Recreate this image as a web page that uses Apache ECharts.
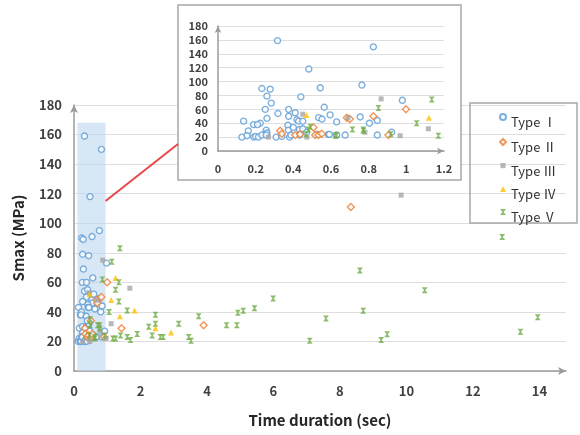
<!DOCTYPE html>
<html>
<head>
<meta charset="utf-8">
<script src="https://cdn.jsdelivr.net/npm/echarts@6/dist/echarts.min.js"></script>
<style>
  html, body { margin: 0; padding: 0; background: #fff; }
  #chart { width: 580px; height: 435px; }
</style>
</head>
<body>
<div id="chart"></div>
<script>
// Peak stress (Smax) against time duration for five event types
const seriesNames = ['Type Ⅰ', 'Type Ⅱ', 'Type Ⅲ', 'Type Ⅳ', 'Type Ⅴ'];

const typeI = [
  [0.316,159],[0.825,150],[0.482,118],[0.543,91],[0.764,95],[0.233,90],[0.277,89],
  [0.26,79],[0.44,78],[0.283,69],[0.979,73],[0.251,60],[0.375,60],[0.564,63],
  [0.318,54],[0.41,55],[0.375,50],[0.26,47],[0.534,48],[0.552,46],[0.595,52],
  [0.755,49],[0.136,43],[0.419,45],[0.428,43],[0.45,43],[0.63,42],[0.804,40],
  [0.846,44],[0.189,38],[0.224,40],[0.21,38],[0.371,37],[0.161,29],[0.256,30],
  [0.26,26],[0.374,30],[0.433,31],[0.45,32],[0.127,20],[0.154,22],[0.19,20],
  [0.2,21],[0.215,20],[0.233,23],[0.256,23],[0.309,20],[0.339,21],[0.38,20],
  [0.387,23],[0.433,23],[0.525,24],[0.586,24],[0.592,24],[0.63,23],[0.675,23],
  [0.846,23],[0.922,27],[0.47,27],[0.40,34]
];
const typeII = [
  [0.33,29],[0.339,25],[0.41,23],[0.436,24],[0.507,34],[0.516,23],[0.534,23],
  [0.551,25],[0.684,48],[0.70,46],[0.825,50],[0.905,23],[0.998,60],[1.43,29],
  [3.9,31],[8.33,111]
];
const typeIII = [
  [0.268,20],[0.45,53],[0.472,20],[0.69,48],[0.78,27],[0.866,75],[0.967,22],
  [1.117,32],[1.68,56],[9.84,119]
];
const typeIV = [
  [0.47,52],[1.25,63],[1.12,48],[1.82,41],[1.38,37],[2.45,29],[2.92,26]
];
const typeV = [
  [0.468,24],[0.48,31],[0.49,35],[0.622,22],[0.63,23],[0.714,31],[0.772,31],
  [0.772,29],[0.852,62],[0.917,24],[1.055,40],[1.135,74],[1.17,22],
  [1.38,83],[1.35,60],[1.25,55],[1.35,47],[1.6,41],[1.4,24],[1.25,22],[1.6,23],
  [1.7,21],[1.9,25],[2.25,30],[2.45,38],[2.45,32],[2.35,24],[2.6,23],[2.68,23],
  [3.15,32],[3.45,23],[3.52,20.5],[3.75,37],[4.59,31],[4.9,31],[4.93,39.4],
  [5.09,40.7],[5.43,42.4],[5.99,49],[7.09,20.5],[7.58,35.6],[8.6,68],[8.7,40.7],
  [9.24,21],[9.42,24.8],[10.55,54.7],[12.88,90.7],[13.43,26.6],[13.95,36.3]
];

// Main axis ticks and the highlighted short-duration window
const mainXTicks = [0, 2, 4, 6, 8, 10, 12, 14];
const mainYTicks = [0, 20, 40, 60, 80, 100, 120, 140, 160, 180];
const zoomWindow = { x0: 0.1, x1: 0.95, y0: 0, y1: 168 };

const allData = [typeI, typeII, typeIII, typeIV, typeV];
const colors = ['#5b9bd5', '#ed7d31', '#a5a5a5', '#ffc000', '#70ad47'];
const xMarker = 'path://M0,0H10L6,5L10,10H0L4,5Z';
const styles = [
  { symbol: 'circle', size: 6, item: { color: '#fff', borderColor: colors[0], borderWidth: 1.4 } },
  { symbol: 'diamond', size: 7, item: { color: '#fff', borderColor: colors[1], borderWidth: 1.4 } },
  { symbol: 'rect', size: 5, item: { color: colors[2] } },
  { symbol: 'triangle', size: 6, item: { color: colors[3] } },
  { symbol: xMarker, size: 6, item: { color: colors[4] } }
];
// Legend keys sit high beside their labels: each key shape fills the top of a taller box
const legendIcons = [
  'path://M3,16M0,3A3,3,0,1,1,6,3A3,3,0,1,1,0,3Z',
  'path://M3,16M3,0L6,3L3,6L0,3Z',
  'path://M3,16M0.5,0.5H5.5V5.5H0.5Z',
  'path://M3,16M3,0L6,6H0Z',
  'path://M3,16M0,0H6L3.6,3L6,6H0L2.4,3Z'
];

const FONT = '"Noto Sans CJK KR", "Noto Sans", sans-serif';
const labelColor = '#404040';
const gridColor = '#dedede';
const axisColor = '#9a9a9a';

const series = [];
allData.forEach((d, i) => {
  series.push({
    name: seriesNames[i], type: 'scatter', xAxisIndex: 0, yAxisIndex: 0,
    data: d, symbol: styles[i].symbol, symbolSize: styles[i].size,
    itemStyle: styles[i].item, z: 3, emphasis: { disabled: true }
  });
});
allData.forEach((d, i) => {
  series.push({
    name: seriesNames[i], type: 'scatter', xAxisIndex: 1, yAxisIndex: 1,
    data: d.filter(p => p[0] <= 1.2), symbol: styles[i].symbol, symbolSize: styles[i].size,
    itemStyle: styles[i].item, z: 8, emphasis: { disabled: true }, clip: true
  });
});

const chart = echarts.init(document.getElementById('chart'), null, { renderer: 'canvas' });

chart.setOption({
  animation: false,
  backgroundColor: '#ffffff',
  textStyle: { fontFamily: FONT },
  grid: [
    { left: 74, top: 105, width: 492, height: 266 },
    { left: 218, top: 26, width: 226, height: 125 }
  ],
  xAxis: [
    {
      type: 'value', gridIndex: 0, min: 0, max: 14.8, interval: 2,
      name: 'Time duration (sec)', nameLocation: 'middle', nameGap: 42,
      nameTextStyle: { fontSize: 15, fontWeight: 'bold', color: '#262626', fontFamily: FONT },
      axisLine: { show: true, lineStyle: { color: axisColor, width: 1.5 }, symbol: ['none', 'arrow'], symbolSize: [6, 8] },
      axisTick: { show: false },
      splitLine: { show: false },
      axisLabel: {
        margin: 14, fontSize: 13, fontWeight: 'bold', color: labelColor, fontFamily: FONT,
        formatter: v => (mainXTicks.includes(v) ? String(v) : '')
      }
    },
    {
      type: 'value', gridIndex: 1, min: 0, max: 1.2, interval: 0.2, z: 6,
      axisLine: { show: true, lineStyle: { color: axisColor, width: 1.5 }, symbol: ['none', 'arrow'], symbolSize: [5, 7] },
      axisTick: { show: false },
      splitLine: { show: false },
      axisLabel: {
        margin: 12, fontSize: 11, fontWeight: 'bold', color: labelColor, fontFamily: FONT,
        formatter: v => String(Math.round(v * 10) / 10)
      }
    }
  ],
  yAxis: [
    {
      type: 'value', gridIndex: 0, min: 0, max: 180, interval: 20,
      name: 'Smax (MPa)', nameLocation: 'middle', nameGap: 48,
      nameTextStyle: { fontSize: 15, fontWeight: 'bold', color: '#262626', fontFamily: FONT },
      axisLine: { show: true, lineStyle: { color: axisColor, width: 1.5 }, symbol: ['none', 'arrow'], symbolSize: [6, 8] },
      axisTick: { show: false },
      splitLine: { show: true, lineStyle: { color: gridColor, width: 1 } },
      axisLabel: {
        margin: 12, fontSize: 13, fontWeight: 'bold', color: labelColor, fontFamily: FONT,
        formatter: v => (mainYTicks.includes(v) ? String(v) : '')
      }
    },
    {
      type: 'value', gridIndex: 1, min: 0, max: 180, interval: 20, z: 6,
      axisLine: { show: true, lineStyle: { color: axisColor, width: 1.5 }, symbol: ['none', 'arrow'], symbolSize: [5, 7] },
      axisTick: { show: false },
      splitLine: { show: true, lineStyle: { color: gridColor, width: 1 } },
      axisLabel: { margin: 10, fontSize: 11, fontWeight: 'bold', color: labelColor, fontFamily: FONT }
    }
  ],
  legend: {
    data: seriesNames.map((n, i) => ({ name: n, icon: legendIcons[i] })),
    orient: 'vertical',
    left: 499, top: 113, padding: 0,
    itemWidth: 6, itemHeight: 16, itemGap: 7,
    textStyle: { fontSize: 13, color: '#333', fontFamily: FONT },
    selectedMode: false
  },
  graphic: [
    {
      type: 'rect', z: 4,
      shape: { x: 178, y: 5, width: 283, height: 175 },
      style: { fill: '#ffffff', stroke: '#a8a8a8', lineWidth: 1.5 }
    },
    {
      type: 'rect', z: 4,
      shape: { x: 470, y: 103, width: 107, height: 120 },
      style: { fill: 'none', stroke: '#a8a8a8', lineWidth: 1.5 }
    }
  ],
  series: series
});

// Shaded short-duration window and the pointer up to the enlarged panel
const a = chart.convertToPixel({ gridIndex: 0 }, [zoomWindow.x0, zoomWindow.y1]);
const b = chart.convertToPixel({ gridIndex: 0 }, [zoomWindow.x1, zoomWindow.y0]);
const start = chart.convertToPixel({ gridIndex: 0 }, [zoomWindow.x1, 115]);
chart.setOption({
  graphic: [
    {}, {},
    {
      type: 'rect', z: 1, silent: true,
      shape: { x: a[0], y: a[1], width: b[0] - a[0], height: b[1] - a[1] },
      style: { fill: 'rgba(189,215,238,0.6)' }
    },
    {
      type: 'line', z: 5,
      shape: { x1: start[0], y1: start[1], x2: 178, y2: 144 },
      style: { stroke: '#e8474a', lineWidth: 2 }
    }
  ]
});
</script>
</body>
</html>
